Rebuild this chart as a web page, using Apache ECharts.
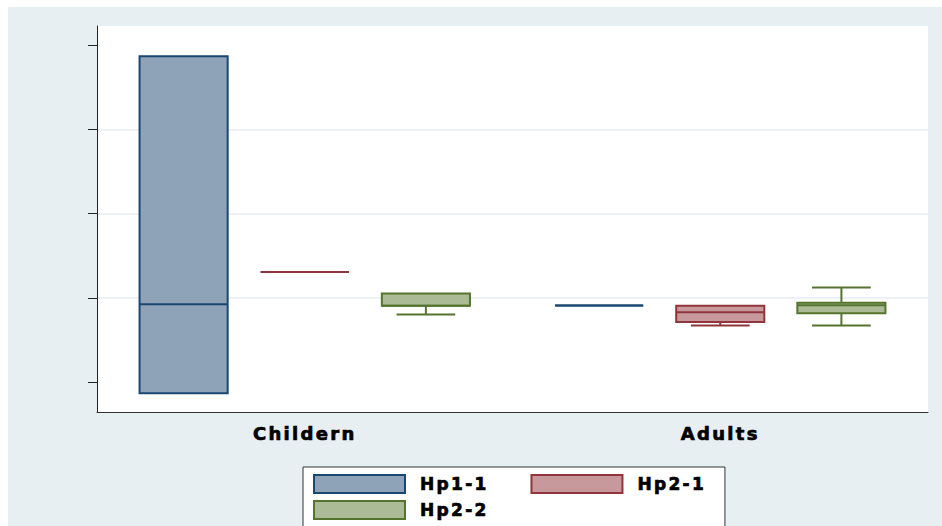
<!DOCTYPE html>
<html>
<head>
<meta charset="utf-8">
<script src="https://cdn.jsdelivr.net/npm/echarts@6/dist/echarts.min.js"></script>
<style>
  html, body { margin: 0; padding: 0; background: #fff; }
  #chart { width: 942px; height: 526px; }
  #chart svg text { letter-spacing: 2.3px; }
</style>
</head>
<body>
<div id="chart"></div>
<script>
// Categories and groups
const categories = ['Childern', 'Adults'];
const groupNames = ['Hp1-1', 'Hp2-1', 'Hp2-2'];

// Five-number summaries per category: [min, Q1, median, Q3, max]
const hp11 = [[8.67, 8.67, 19.25, 48.71, 48.71], [19.09, 19.09, 19.09, 19.09, 19.09]];
const hp21 = [[23.08, 23.08, 23.08, 23.08, 23.08], [16.71, 17.12, 18.30, 19.05, 19.05]];
const hp22 = [[18.02, 19.05, 19.05, 20.51, 20.51], [16.71, 18.18, 19.13, 19.41, 21.22]];

// Value axis: tick positions and visible range
const yTicks = [10, 20, 30, 40, 50];
const yRange = [6.44, 52.29];

const groupData = [hp11, hp21, hp22];
const strokes = ['#1a476f', '#90353b', '#55752f'];
const fills = ['#8ea3b8', '#c8999c', '#aabb96'];

const FONT = 'DejaVu Sans';

// Draws one box per category for a given group slot, laid out side by side in the band
function boxRenderer(slot, count, stroke, fill) {
  return function (params, api) {
    const cat = api.value(0);
    const band = api.size([1, 0])[0];
    const avail = band * 0.8 - 2;
    const gap = avail / count * 0.3;
    const w = (avail - gap * (count - 1)) / count;
    const cx = api.coord([cat, api.value(1)])[0] + w / 2 - avail / 2 + slot * (w + gap);
    const ys = [1, 2, 3, 4, 5].map(function (d) { return api.coord([cat, api.value(d)])[1]; });
    const yMin = ys[0], yQ1 = ys[1], yMed = ys[2], yQ3 = ys[3], yMax = ys[4];
    const half = w / 2, capHalf = w / 3;
    function seg(x1, y1, x2, y2) {
      return { type: 'line', shape: { x1: x1, y1: y1, x2: x2, y2: y2 }, style: { stroke: stroke, lineWidth: 2 } };
    }
    const children = [];
    if (Math.abs(yMin - yQ1) > 0.5) {
      children.push(seg(cx, yQ1, cx, yMin), seg(cx - capHalf, yMin, cx + capHalf, yMin));
    }
    if (Math.abs(yMax - yQ3) > 0.5) {
      children.push(seg(cx, yQ3, cx, yMax), seg(cx - capHalf, yMax, cx + capHalf, yMax));
    }
    children.push({
      type: 'rect',
      shape: { x: cx - half, y: yQ3, width: w, height: yQ1 - yQ3 },
      style: { fill: fill, stroke: stroke, lineWidth: 2 }
    });
    children.push(seg(cx - half, yMed, cx + half, yMed));
    return { type: 'group', children: children };
  };
}

const series = groupNames.map(function (name, g) {
  return {
    type: 'custom',
    name: name,
    itemStyle: { color: fills[g], borderColor: strokes[g] },
    encode: { x: 0, y: [1, 2, 3, 4, 5] },
    data: categories.map(function (c, i) { return [i].concat(groupData[g][i]); }),
    renderItem: boxRenderer(g, groupNames.length, strokes[g], fills[g])
  };
});

function legendItem(g) {
  return {
    name: groupNames[g],
    itemStyle: { color: fills[g], borderColor: strokes[g], borderWidth: 2 }
  };
}

const legendText = {
  fontFamily: FONT, fontWeight: 'bold', fontSize: 17, color: '#000',
  textBorderColor: '#000', textBorderWidth: 0.7,
  padding: [0, 0, 0, 10]
};

const chart = echarts.init(document.getElementById('chart'), null, { renderer: 'svg' });
chart.setOption({
  animation: false,
  backgroundColor: '#e8eff2',
  graphic: [
    { type: 'rect', left: 0, top: 0, shape: { width: 942, height: 7 }, style: { fill: '#fff' }, silent: true },
    { type: 'rect', left: 0, top: 0, shape: { width: 8, height: 526 }, style: { fill: '#fff' }, silent: true }
  ],
  grid: {
    left: 97, right: 14, top: 26, bottom: 114,
    show: true, backgroundColor: '#fff', borderWidth: 0
  },
  legend: [
    {
      left: 303, top: 467,
      orient: 'horizontal',
      icon: 'rect',
      itemWidth: 91, itemHeight: 18, itemGap: 53,
      padding: [7, 30, 40, 10],
      backgroundColor: '#fff', borderColor: '#333', borderWidth: 1,
      selectedMode: false,
      textStyle: legendText,
      data: [legendItem(0), legendItem(1)]
    },
    {
      left: 313, top: 500, z: 6,
      icon: 'rect',
      itemWidth: 91, itemHeight: 18,
      padding: 0,
      selectedMode: false,
      textStyle: legendText,
      data: [legendItem(2)]
    }
  ],
  xAxis: {
    type: 'category',
    data: categories,
    boundaryGap: true,
    axisTick: { show: false },
    axisLine: { lineStyle: { color: '#333', width: 1 } },
    axisLabel: {
      fontFamily: FONT, fontWeight: 'bold', fontSize: 18, color: '#000',
      textBorderColor: '#000', textBorderWidth: 0.7, margin: 12
    }
  },
  yAxis: {
    type: 'value',
    min: yRange[0], max: yRange[1],
    splitNumber: 5,
    axisLine: { show: true, lineStyle: { color: '#222', width: 1 } },
    axisTick: { show: true, length: 9, customValues: yTicks, lineStyle: { color: '#222', width: 1 } },
    axisLabel: { show: false },
    splitLine: { show: true, showMinLine: false, showMaxLine: false, lineStyle: { color: '#e6edf0', width: 1.5 } }
  },
  series: series
});
</script>
</body>
</html>
